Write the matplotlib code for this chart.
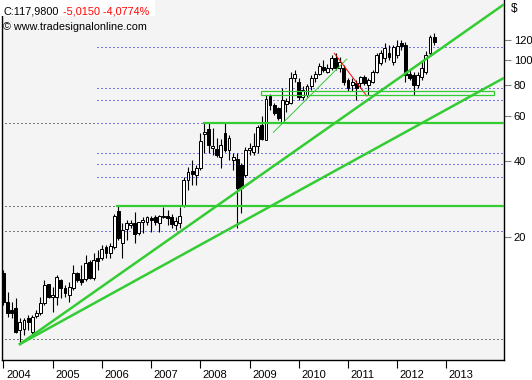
import numpy as np
import matplotlib
matplotlib.use('Agg')
import matplotlib.pyplot as plt
from matplotlib.patches import Rectangle
from matplotlib.ticker import FixedLocator, NullLocator
from matplotlib.transforms import ScaledTranslation

plt.rcParams['font.family'] = ['Liberation Sans', 'DejaVu Sans']

# monthly candles, first one = Jan 2004
start_year = 2004
opens = [14.4, 11.1, 10.3, 10.5, 8.6, 8.7, 9.6, 8.4, 9.75, 10.0, 11.0, 13.0,
         11.6, 11.6, 13.5, 12.6, 11.8, 12.6, 14.4, 13.6, 13.6, 15.9, 13.8, 16.5,
         16.5, 18.2, 17.3, 18.2, 25.3, 19.0, 21.6, 22.3, 22.8, 20.8, 23.0, 23.0,
         23.7, 24.0, 22.8, 24.0, 24.2, 24.0, 22.3, 22.8, 26.8, 33.6, 36.5, 35.1,
         37.5, 51.0, 53.4, 44.9, 44.5, 41.3, 51.4, 44.1, 40.3, 40.7, 38.5, 35.1,
         44.1, 43.4, 45.7, 55.4, 48.3, 71.9, 66.4, 64.7, 57.1, 67.1, 67.7, 84.9,
         81.8, 71.5, 72.8, 78.9, 84.9, 88.1, 93.9, 89.6, 92.9, 101.8, 92.9, 92.9,
         83.4, 79.7, 81.1, 81.1, 85.7, 79.7, 81.8, 89.6, 97.3, 101.8, 106.5, 98.2,
         104.7, 116.8, 114.7, 88.1, 87.3, 79.7, 85.7, 89.6, 106.5, 123.0]
highs = [14.8, 12.1, 11.1, 11.5, 9.6, 9.6, 9.85, 9.85, 10.3, 11.6, 13.5, 13.1,
         12.7, 14.2, 13.7, 12.9, 13.3, 15.5, 14.6, 15.5, 17.0, 16.2, 17.3, 17.8,
         18.6, 18.6, 19.0, 24.6, 26.5, 22.8, 23.4, 23.4, 25.1, 23.0, 24.0, 24.2,
         24.2, 24.4, 24.4, 26.3, 25.6, 24.6, 24.0, 26.3, 34.5, 37.8, 40.3, 38.5,
         51.4, 56.6, 56.6, 53.9, 49.2, 48.8, 56.6, 50.5, 43.0, 43.0, 39.2, 45.3,
         47.0, 51.4, 55.4, 60.1, 72.8, 73.5, 67.7, 65.3, 77.6, 70.8, 89.6, 91.3,
         84.9, 78.9, 80.5, 87.3, 90.5, 97.1, 100.0, 96.4, 104.7, 106.5, 103.0, 95.6,
         84.9, 84.9, 83.4, 86.5, 87.3, 84.9, 91.3, 106.5, 109.6, 116.8, 114.7, 114.7,
         120.0, 120.0, 118.3, 91.3, 89.6, 89.6, 98.2, 108.5, 125.7, 127.5]
lows = [10.8, 9.7, 9.6, 8.35, 7.55, 8.2, 8.6, 8.3, 9.6, 9.85, 10.8, 11.5,
        10.1, 10.8, 11.5, 11.6, 11.1, 12.4, 13.3, 12.9, 13.4, 13.7, 13.5, 14.8,
        16.2, 16.5, 16.5, 17.9, 19.5, 16.5, 19.5, 21.8, 19.0, 20.4, 20.8, 22.3,
        20.9, 22.3, 20.9, 23.7, 22.3, 21.8, 21.3, 21.8, 26.3, 30.7, 32.1, 32.1,
        36.8, 43.1, 43.1, 42.1, 41.3, 37.5, 43.4, 40.3, 36.8, 21.7, 25.0, 34.4,
        42.1, 42.1, 43.1, 48.3, 48.3, 63.5, 60.6, 57.9, 56.6, 62.3, 67.1, 81.8,
        69.5, 69.5, 71.5, 76.1, 81.8, 87.3, 89.6, 88.9, 91.3, 91.3, 89.6, 79.7,
        75.4, 75.4, 69.5, 77.6, 79.7, 72.8, 81.1, 88.9, 95.6, 98.2, 100.0, 95.6,
        101.8, 109.6, 81.8, 83.4, 72.8, 77.6, 83.4, 88.1, 104.7, 114.7]
closes = [11.1, 10.0, 10.0, 8.4, 9.2, 9.4, 9.2, 9.7, 10.0, 11.0, 12.9, 11.6,
          11.8, 13.9, 12.6, 12.0, 12.7, 14.4, 13.5, 13.3, 15.8, 13.8, 16.2, 16.1,
          18.0, 17.3, 18.4, 24.3, 19.8, 21.3, 22.7, 22.8, 20.6, 23.0, 23.4, 24.0,
          23.4, 23.0, 24.2, 24.0, 23.7, 22.6, 23.2, 24.2, 33.6, 36.2, 35.5, 37.5,
          47.9, 52.0, 46.1, 45.7, 42.1, 46.1, 44.1, 49.4, 41.3, 31.1, 31.1, 44.1,
          44.9, 45.7, 54.4, 48.8, 70.1, 66.4, 61.8, 58.9, 69.5, 69.0, 84.9, 88.1,
          71.5, 76.1, 78.9, 84.9, 88.1, 94.7, 91.3, 92.9, 101.8, 92.9, 98.2, 81.8,
          77.6, 81.8, 77.6, 85.7, 81.1, 83.4, 89.6, 104.7, 106.5, 111.8, 102.7, 112.8,
          113.7, 113.7, 87.3, 84.9, 79.7, 87.3, 92.9, 104.7, 123.0, 117.98]

# horizontal levels (price, start, end)
black_levels = [56.4, 26.5, 21.1, 7.88]
black_from = [2004.03, 2004.03, 2004.03, 2004.03]
black_to = [2005.9, 2006.31, 2005.9, 2014.2]
blue_levels = [112.6, 77.5, 69.5, 56.4, 42.9, 38.8, 34.5, 21.1]
blue_from = 2005.9
green_levels = [56.4, 26.5]
green_from = [2008.08, 2006.31]

# drawn trend lines
trend_x = [2004.335, 2014.15]
trend_steep = [7.56, 164.9]
trend_flat = [7.56, 84.6]
thin_x = [2009.484, 2010.976]
thin_y = [51.8, 100.9]
red_x = [2010.724, 2011.382]
red_y = [106.3, 72.1]
zone_x = [2009.234, 2013.97]
zone_y = [72.7, 75.4]

years = list(range(2004, 2014))
price_ticks = [20, 40, 60, 80, 100, 120]

green = '#33cc33'
x0, x1 = 2003.97, 2014.17

fig = plt.figure(figsize=(5.32, 3.8), dpi=100)
ax = fig.add_axes([2 / 532, 20 / 380, 502 / 532, 360 / 380])
ax.set_facecolor('#f4f4f4')
ax.set_yscale('log')
ax.set_xlim(x0, x1)
ax.set_ylim(6.54, 172.6)

# level lines, 1px dots snapped to the pixel grid
for lvl, a, b in zip(black_levels, black_from, black_to):
    ax.plot([a, b], [lvl, lvl], color='black', lw=0.72, ls=(0, (1, 3)),
            snap=True, zorder=1)
for lvl in blue_levels:
    ax.plot([blue_from, x1], [lvl, lvl], color='#0000e0', lw=0.72, ls=(0, (1, 3)),
            snap=True, zorder=1)

# candles
o = np.array(opens)
h = np.array(highs)
l = np.array(lows)
c = np.array(closes)
t = start_year + np.arange(len(c)) / 12
up = c >= o
bw = 0.7 / 12
ax.vlines(t, l, h, color='black', lw=0.8, zorder=3)
ax.bar(t[up], np.maximum(c - o, 0.15)[up], bottom=o[up], width=bw,
       facecolor='white', edgecolor='black', lw=0.72, zorder=4)
ax.bar(t[~up], (o - c)[~up], bottom=c[~up], width=bw,
       facecolor='black', edgecolor='black', lw=0.72, zorder=4)

# drawings
for lvl, a in zip(green_levels, green_from):
    ax.plot([a, x1], [lvl, lvl], color=green, lw=1.6, zorder=5)
ax.plot(trend_x, trend_steep, color=green, lw=1.8, zorder=5)
ax.plot(trend_x, trend_flat, color=green, lw=1.8, zorder=5)
ax.plot(thin_x, thin_y, color=green, lw=0.7, zorder=5)
ax.plot(red_x, red_y, color='red', lw=0.7, zorder=5)
ax.add_patch(Rectangle((zone_x[0], zone_y[0]), zone_x[1] - zone_x[0], zone_y[1] - zone_y[0],
                       facecolor='none', edgecolor=green, lw=0.9, zorder=5))

# axes styling
for s in ['left', 'bottom', 'right']:
    ax.spines[s].set_color('black')
    ax.spines[s].set_linewidth(1.0)
ax.spines['top'].set_visible(False)

ax.yaxis.tick_right()
ax.yaxis.set_major_locator(FixedLocator(price_ticks))
ax.yaxis.set_minor_locator(NullLocator())
ax.set_yticklabels([str(v) for v in price_ticks])
ax.tick_params(axis='y', length=5, color='gray', pad=2, labelsize=8)

ax.set_xticks(years)
ax.set_xticklabels([str(y) for y in years])
ax.tick_params(axis='x', length=6, color='black', pad=1.5, labelsize=8)
shift = ScaledTranslation(2.5 / 100, 0, fig.dpi_scale_trans)
for lab in ax.get_xticklabels():
    lab.set_horizontalalignment('left')
    lab.set_transform(lab.get_transform() + shift)

fig.text(511 / 532, 1 - 9 / 380, '$', fontsize=8.5, va='center', ha='left')

# header
fig.add_artist(Rectangle((0, 1 - 16 / 380), 155 / 532, 16 / 380, transform=fig.transFigure,
                         facecolor='white', edgecolor='none', zorder=10))
fig.text(3 / 532, 1 - 14 / 380, 'C:117,9800', fontsize=7.8, color='black', va='baseline', zorder=11)
fig.text(63 / 532, 1 - 14 / 380, '-5,0150 -4,0774%', fontsize=7.8, color='red', va='baseline', zorder=11)
fig.text(3 / 532, 1 - 30 / 380, '\u00a9 www.tradesignalonline.com', fontsize=7.8, color='black',
         va='baseline', zorder=11)

fig.savefig('out.png', dpi=100)
